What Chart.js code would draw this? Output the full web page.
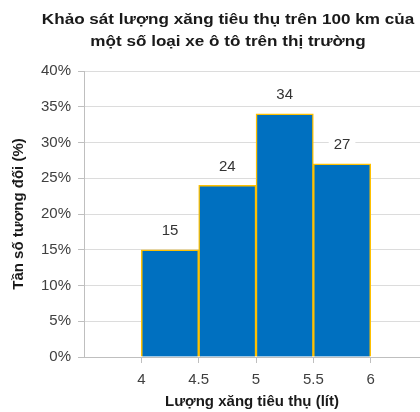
<!DOCTYPE html>
<html>
<head>
<meta charset="utf-8">
<script src="https://cdn.jsdelivr.net/npm/chart.js@4"></script>
<style>
  html, body { margin: 0; padding: 0; background: #fff; }
  #wrap { width: 420px; height: 412px; position: relative; }
</style>
</head>
<body>
<div id="wrap"><canvas id="chart"></canvas></div>
<script>
// class midpoints (litres) and relative frequencies (%)
const classMids = [4.25, 4.75, 5.25, 5.75];
const freqs = [15, 24, 34, 27];
const xTicks = [4, 4.5, 5, 5.5, 6];
const titleLines = ["Khảo sát lượng xăng tiêu thụ trên 100 km của", "một số loại xe ô tô trên thị trường"];

const font = "'Liberation Sans', Arial, sans-serif";

// draws the two title lines, a little stretched sideways like the original
const titlePlugin = {
  id: "titleLines",
  afterDraw(chart) {
    const ctx = chart.ctx;
    ctx.save();
    ctx.font = "bold 15px " + font;
    ctx.fillStyle = "#1a1a1a";
    ctx.textAlign = "center";
    ctx.textBaseline = "middle";
    ctx.translate(228, 0);
    ctx.scale(1.14, 1);
    ctx.fillText(titleLines[0], 0, 20);
    ctx.fillText(titleLines[1], 0, 42);
    ctx.restore();
  },
};

// value labels above the bars, on a white box
const barLabels = {
  id: "barLabels",
  afterDatasetsDraw(chart) {
    const ctx = chart.ctx;
    const meta = chart.getDatasetMeta(0);
    ctx.save();
    ctx.font = "15px " + font;
    ctx.textAlign = "center";
    ctx.textBaseline = "middle";
    meta.data.forEach((bar, i) => {
      const txt = String(freqs[i]);
      const w = ctx.measureText(txt).width + 10;
      const y = bar.y - 19;
      ctx.fillStyle = "#fff";
      ctx.fillRect(bar.x - w / 2, y - 10, w, 20);
      ctx.fillStyle = "#333";
      ctx.fillText(txt, bar.x, y);
    });
    ctx.restore();
  },
};

new Chart(document.getElementById("chart"), {
  type: "bar",
  data: {
    datasets: [
      {
        data: classMids.map((x, i) => ({ x: x, y: freqs[i] })),
        backgroundColor: "#0070C0",
        borderColor: "#FFC000",
        borderWidth: 1.5,
        barPercentage: 1,
        categoryPercentage: 1,
      },
    ],
  },
  options: {
    responsive: true,
    maintainAspectRatio: false,
    animation: false,
    layout: { padding: { top: 71, left: 10, right: 0, bottom: 1 } },
    plugins: {
      legend: { display: false },
      tooltip: { enabled: false },
    },
    scales: {
      x: {
        type: "linear",
        offset: false,
        min: 3.5,
        max: 6.43,
        afterBuildTicks: (scale) => {
          scale.ticks = xTicks.map((v) => ({ value: v }));
        },
        grid: { offset: false, drawOnChartArea: false, tickLength: 6, color: "#bfbfbf" },
        border: { color: "#bfbfbf" },
        ticks: {
          autoSkip: false,
          maxRotation: 0,
          callback: (v) => String(v),
          color: "#404040",
          font: { size: 15, family: font },
          padding: 8,
        },
        title: {
          display: true,
          text: "Lượng xăng tiêu thụ (lít)",
          color: "#1a1a1a",
          font: { size: 15, weight: "bold", family: font },
          padding: { top: -4, bottom: 0 },
        },
      },
      y: {
        min: 0,
        max: 40,
        ticks: {
          stepSize: 5,
          callback: (v) => v + "%",
          color: "#404040",
          font: { size: 15, family: font },
          padding: 7,
        },
        grid: { color: "#dcdcdc", tickLength: 6, tickColor: "#bfbfbf" },
        border: { color: "#bfbfbf" },
        title: {
          display: true,
          text: "Tần số tương đối (%)",
          color: "#1a1a1a",
          font: { size: 15, weight: "bold", family: font },
          padding: { top: 0, bottom: 6 },
        },
      },
    },
  },
  plugins: [titlePlugin, barLabels],
});
</script>
</body>
</html>
